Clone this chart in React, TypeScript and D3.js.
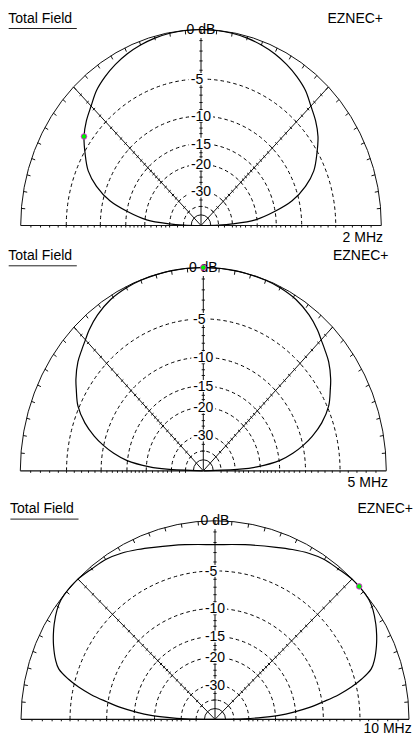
import React from 'react';
import * as d3 from 'd3';

// elevation angle (deg, 0..90, pattern is symmetric) and gain (dB)
const elev2MHz = [0, 1.5, 2.8, 5.5, 10, 14, 19, 24, 30, 35, 40, 45, 50, 55, 60, 65, 70, 75, 80, 85, 90];
const gain2MHz = [-99, -40, -30, -20.5, -15, -11.2, -8.4, -6.5, -5.1, -4.0, -3.2, -2.55, -1.8, -1.3, -0.9, -0.58, -0.35, -0.18, -0.07, -0.02, 0];

const elev5MHz = [0, 2.3, 3.8, 7, 10, 13, 16, 20, 25, 30, 33, 38, 42, 45, 48, 53, 59, 65, 70, 80, 90];
const gain5MHz = [-99, -27.6, -21, -14.8, -12, -9.9, -8.2, -6.4, -4.8, -3.8, -3.2, -2.4, -1.95, -1.6, -1.2, -0.7, -0.3, -0.12, -0.05, 0, 0];

const elev10MHz = [0, 1, 2.3, 3.5, 5, 7, 9, 11, 13, 15, 17.5, 20, 24, 27, 30, 34, 37, 42, 45, 50, 55, 60, 65, 70, 80, 90];
const gain10MHz = [-99, -32, -24, -19, -15.6, -12.2, -9.8, -7.4, -5.6, -4.2, -2.9, -2.3, -1.6, -1.15, -0.75, -0.3, -0.08, 0, -0.03, -0.2, -0.3, -0.6, -1.0, -1.4, -1.95, -2.2];

const freqLabels = ['2 MHz', '5 MHz', '10 MHz'];
const markerAngles = [145, 90, 42]; // cursor position, 0 = right horizon

const ringDb = [-5, -10, -15, -20, -30, -40];
const ringLabels = ['-5', '-10', '-15', '-20', '-30'];
const ringLabelDb = [-5, -10, -15, -20, -30];
const axisTickDb = [-1, -2, -3, -4, -5, -6, -7, -8, -9, -10, -11, -12, -13, -14, -15, -16, -17, -18, -19, -20, -22, -24, -26, -28, -30, -35, -40];
const rimTickDeg = [5, 10, 15, 20, 25, 30, 35, 40, 45, 50, 55, 60, 65, 70, 75, 80, 85, 90, 95, 100, 105, 110, 115, 120, 125, 130, 135, 140, 145, 150, 155, 160, 165, 170, 175];

const FONT = '"Liberation Sans", Arial, sans-serif';

// ARRL log scale: each 2 dB down = 0.89 of radius
const arrl = (db: number) => Math.pow(0.89, -db / 2);
const rad = (deg: number) => (deg * Math.PI) / 180;

interface PanelProps {
  cx: number; cy: number; rx: number; ry: number;
  titleY: number; titleX: number; eznecX: number; freqX: number; freqY: number;
  elev: number[]; gain: number[]; freq: string; marker: number;
}

const Panel: React.FC<PanelProps> = (p) => {
  const x = d3.scaleLinear().domain([-1, 1]).range([p.cx - p.rx, p.cx + p.rx]);
  const y = d3.scaleLinear().domain([0, 1]).range([p.cy, p.cy - p.ry]);
  const pt = (deg: number, r: number): [number, number] => [x(r * Math.cos(rad(deg))), y(r * Math.sin(rad(deg)))];

  const gainAt = (deg: number) => {
    const e = deg > 90 ? 180 - deg : deg;
    const i = p.elev.findIndex(v => v >= e);
    if (i <= 0) return p.gain[Math.max(i, 0)];
    const t = (e - p.elev[i - 1]) / (p.elev[i] - p.elev[i - 1]);
    return p.gain[i - 1] + t * (p.gain[i] - p.gain[i - 1]);
  };

  const pts: [number, number][] = [
    ...p.elev.map((e, i) => pt(e, arrl(p.gain[i]))),
    ...p.elev.slice(0, -1).reverse().map((e) => pt(180 - e, arrl(p.gain[p.elev.indexOf(e)]))),
  ];
  const pattern = d3.line().curve(d3.curveCatmullRom.alpha(0.5))(pts) || '';

  const arc = (r: number) =>
    `M${x(-r)},${p.cy} A${p.rx * r},${p.ry * r} 0 0 1 ${x(r)},${p.cy}`;

  const rimTicks = rimTickDeg.map(d => {
    const a = pt(d, 1);
    const b = pt(d, 1 - 4 / ((p.rx + p.ry) / 2));
    return `M${a[0]},${a[1]}L${b[0]},${b[1]}`;
  }).join('');

  const radialTicks = [45, 90, 135].map(deg => {
    const dx = Math.cos(rad(deg)) * p.rx;
    const dy = -Math.sin(rad(deg)) * p.ry;
    const len = Math.hypot(dx, dy);
    const nx = -dy / len, ny = dx / len;
    return axisTickDb.map(db => {
      const [px, py] = pt(deg, arrl(db));
      return `M${px - nx * 1.6},${py - ny * 1.6}L${px + nx * 1.6},${py + ny * 1.6}`;
    }).join('');
  }).join('');

  const baseTicks = axisTickDb.flatMap(db => [x(arrl(db)), x(-arrl(db))])
    .map(tx => `M${tx},${p.cy}L${tx},${p.cy + 2}`).join('');

  const [a45x, a45y] = pt(45, 1);
  const [a135x, a135y] = pt(135, 1);
  const mk = pt(p.marker, arrl(gainAt(p.marker)));

  return (
    <g>
      {/* header */}
      <text x={p.titleX} y={p.titleY} fontSize={14} fontFamily={FONT} fill="#000">Total Field</text>
      <line x1={p.titleX + 0.4} x2={p.titleX + 68.5} y1={p.titleY + 5.8} y2={p.titleY + 5.8} stroke="#222" strokeWidth={1} />
      <text x={p.eznecX} y={p.titleY} fontSize={14} fontFamily={FONT} fill="#000" textAnchor="end">EZNEC+</text>

      {/* dB rings */}
      {ringDb.map(db => (
        <path key={db} d={arc(arrl(db))} fill="none" stroke="#000" strokeWidth={1} strokeDasharray="3.5 3" />
      ))}
      <path d={arc(arrl(-50))} fill="none" stroke="#111" strokeWidth={1} />

      {/* outer circle, baseline, radial lines */}
      <path d={arc(1)} fill="none" stroke="#111" strokeWidth={1} />
      <path d={rimTicks} stroke="#111" strokeWidth={1} />
      <line x1={x(-1)} x2={x(1)} y1={p.cy} y2={p.cy} stroke="#111" strokeWidth={1.2} />
      <path d={baseTicks} stroke="#111" strokeWidth={1} />
      <line x1={p.cx} y1={p.cy} x2={a45x} y2={a45y} stroke="#111" strokeWidth={1} />
      <line x1={p.cx} y1={p.cy} x2={a135x} y2={a135y} stroke="#111" strokeWidth={1} />
      <line x1={p.cx} y1={p.cy} x2={p.cx} y2={p.cy - p.ry + 8.5} stroke="#111" strokeWidth={1} />
      <path d={radialTicks} stroke="#111" strokeWidth={1} />

      {/* pattern */}
      <path d={pattern} fill="none" stroke="#000" strokeWidth={1.2} />

      {/* ring labels */}
      {ringLabels.map((lab, i) => {
        const ly = y(arrl(ringLabelDb[i]));
        const w = lab.length * 7 + 3;
        const dx = lab.length < 3 ? -4 : 0;
        return (
          <g key={lab}>
            <rect x={p.cx + dx - w / 2} y={ly - 6} width={w} height={12} fill="#fff" />
            <text x={p.cx + dx} y={ly + 5} fontSize={14} fontFamily={FONT} textAnchor="middle" fill="#000">{lab}</text>
          </g>
        );
      })}
      <text x={p.cx} y={p.cy - p.ry + 4.5} fontSize={14} fontFamily={FONT} textAnchor="middle" fill="#000">0 dB</text>

      <text x={p.freqX} y={p.freqY} fontSize={14} fontFamily={FONT} textAnchor="end" fill="#000">{p.freq}</text>

      {/* cursor marker */}
      <circle cx={mk[0]} cy={mk[1]} r={2.8} fill="#00ee00" stroke="#ff00ff" strokeWidth={0.8} />
    </g>
  );
};

const panels = [
  { cx: 201, cy: 225.5, rx: 180.3, ry: 196, titleX: 8.3, titleY: 22.7, eznecX: 383, freqX: 383, freqY: 241.7 },
  { cx: 203.3, cy: 470.8, rx: 183, ry: 203.3, titleX: 8.3, titleY: 260, eznecX: 388.5, freqX: 388, freqY: 486.7 },
  { cx: 215, cy: 719.3, rx: 194, ry: 198.6, titleX: 10, titleY: 513.3, eznecX: 413, freqX: 411.7, freqY: 732.5 },
];
const elevs = [elev2MHz, elev5MHz, elev10MHz];
const gains = [gain2MHz, gain5MHz, gain10MHz];

export default function App() {
  return (
    <svg width={414} height={734} style={{ position: 'absolute', left: 0, top: 0, background: '#fff' }}>
      <rect width={414} height={734} fill="#fff" />
      {panels.map((g, i) => (
        <Panel key={i} {...g} elev={elevs[i]} gain={gains[i]} freq={freqLabels[i]} marker={markerAngles[i]} />
      ))}
    </svg>
  );
}
